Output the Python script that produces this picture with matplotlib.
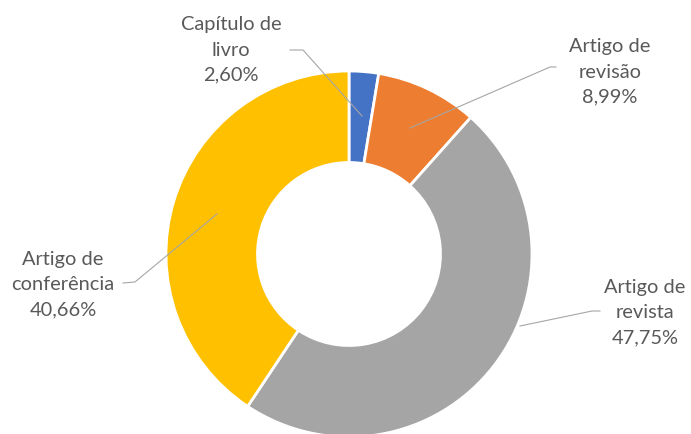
import matplotlib.pyplot as plt

categories = ["Capítulo de\nlivro", "Artigo de\nrevisão", "Artigo de\nrevista", "Artigo de\nconferência"]
values = [2.60, 8.99, 47.75, 40.66]
pct_labels = ["2,60%", "8,99%", "47,75%", "40,66%"]
colors = ["#4472C4", "#ED7D31", "#A5A5A5", "#FFC000"]

# label placement in pixel coords (y from top): text centre, leader line points
text_pos = [(231, 50), (610, 72), (645, 313), (63, 285)]
leaders = [
    [(362, 117), (303, 51), (290, 51)],
    [(410, 129), (550, 68), (556, 68)],
    [(520, 327), (592, 312), (600, 312)],
    [(217, 215), (135, 283), (123, 284)],
]

W, H = 691, 435
fig = plt.figure(figsize=(W / 100, H / 100), dpi=100)
ax = fig.add_axes([0, 0, 1, 1])

cx, cy, r = 349, H - 255, 183
ax.pie(values, colors=colors, startangle=90, counterclock=False,
       center=(cx, cy), radius=r, frame=True,
       wedgeprops=dict(width=r * 0.5, edgecolor="white", linewidth=2))
ax.set_xlim(0, W)
ax.set_ylim(0, H)
ax.set_aspect("equal")
ax.axis("off")

for cat, pct, (tx, ty), pts in zip(categories, pct_labels, text_pos, leaders):
    xs = [p[0] for p in pts]
    ys = [H - p[1] for p in pts]
    ax.plot(xs, ys, color="#A6A6A6", linewidth=0.8, zorder=3)
    ax.text(tx, H - ty, cat + "\n" + pct, ha="center", va="center",
            fontsize=14.4, family="Lato", color="#595959", linespacing=1.58)

fig.savefig("out.png", dpi=100)
